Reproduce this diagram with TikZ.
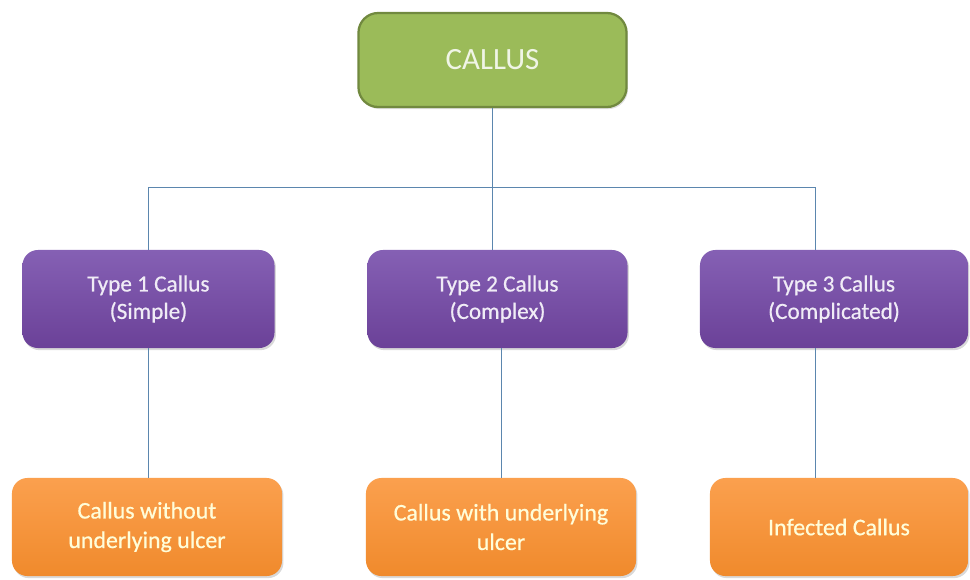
\documentclass[tikz,border=0pt]{standalone}
\usepackage{fontspec}
\setmainfont{Carlito}
\usetikzlibrary{shadows, positioning}
\definecolor{calgreen}{HTML}{9BBB59}
\definecolor{calgreenline}{HTML}{71893F}
\definecolor{typepurpletop}{HTML}{8560B4}
\definecolor{typepurplebot}{HTML}{6B4198}
\definecolor{kindorangetop}{HTML}{FBA04E}
\definecolor{kindorangebot}{HTML}{F08A2C}
\definecolor{linkblue}{HTML}{5B86AE}
\tikzset{
  rootbox/.style = {rectangle, rounded corners=14pt, fill=calgreen, draw=calgreenline, line width=1.6pt, minimum width=6.7cm, minimum height=2.35cm, text=calgreen!15, font=\fontsize{22}{26}\selectfont, align=center, drop shadow={opacity=0.25, shadow xshift=1pt, shadow yshift=-1.5pt}},
  typebox/.style = {rectangle, rounded corners=11pt, top color=typepurpletop, bottom color=typepurplebot, draw=none, minimum height=2.45cm, text=white!88!typepurpletop, font=\fontsize{16.5}{19.5}\selectfont\addfontfeature{FakeBold=0.6}, align=center, drop shadow={opacity=0.3, shadow xshift=1pt, shadow yshift=-1.5pt}},
  kindbox/.style = {rectangle, rounded corners=11pt, top color=kindorangetop, bottom color=kindorangebot, draw=none, minimum height=2.45cm, text=yellow!15, font=\fontsize{17}{21}\selectfont\addfontfeature{FakeBold=0.6}, align=center, drop shadow={opacity=0.3, shadow xshift=1pt, shadow yshift=-1.5pt}},
  link/.style = {draw=linkblue, line width=0.7pt}
}
\begin{document}
\begin{tikzpicture}[x=0.025cm, y=-0.025cm]
  \useasboundingbox (0,0) rectangle (970,579);

  % Level 0: root
  \node (callus) [rootbox] at (492.5,60) {CALLUS};

  % Level 1: callus types
  \node (type1) [typebox, minimum width=6.3cm] at (148.5,299) {Type 1 Callus\\(Simple)};
  \node (type2) [typebox, minimum width=6.5cm] at (497.5,299) {Type 2 Callus\\(Complex)};
  \node (type3) [typebox, minimum width=6.7cm] at (834,299) {Type 3 Callus\\(Complicated)};

  % Level 2: descriptions
  \node (kind1) [kindbox, minimum width=6.75cm] at (147,527) {Callus without\\underlying ulcer};
  \node (kind2) [kindbox, minimum width=6.75cm] at (501,527) {Callus with underlying\\ulcer};
  \node (kind3) [kindbox, minimum width=6.45cm] at (839,527) {Infected Callus};

  % Connecting Nodes
  \coordinate (bus) at (492.5,187);
  \coordinate (drop3) at (815,187);
  \draw[link] (callus.south) -- (bus);
  \draw[link] (type1.north) -- (type1.north |- bus) -- (drop3) -- (drop3 |- type3.north);
  \draw[link] (bus) -- (bus |- type2.north);
  \draw[link] (type1.south) -- (type1.south |- kind1.north);
  \draw[link] (kind2.north) -- (kind2.north |- type2.south);
  \draw[link] (drop3 |- type3.south) -- (drop3 |- kind3.north);
\end{tikzpicture}
\end{document}
